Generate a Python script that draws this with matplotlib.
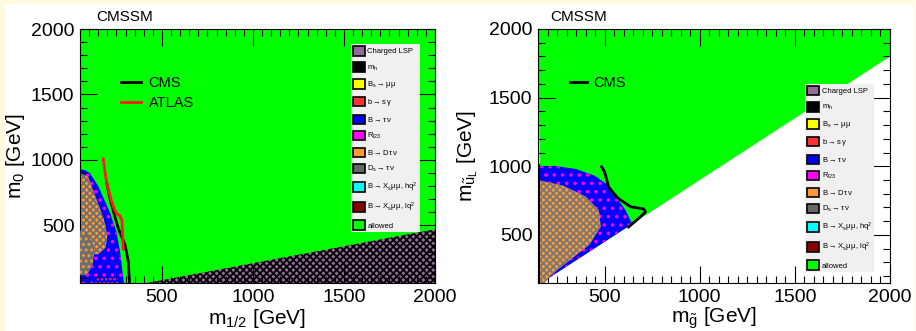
import matplotlib
matplotlib.use("Agg")
import matplotlib.pyplot as plt
from matplotlib.patches import Patch, Polygon, Rectangle
from matplotlib.ticker import MultipleLocator

plt.rcParams["font.family"] = ["Liberation Sans", "DejaVu Sans"]
plt.rcParams["mathtext.fontset"] = "custom"
plt.rcParams["mathtext.rm"] = "Liberation Sans"
plt.rcParams["mathtext.it"] = "Liberation Sans:italic"
plt.rcParams["mathtext.default"] = "regular"

# constraint legend (same for both panels)
constraint_labels = [
    "Charged LSP", r"m$_h$", r"B$_s\rightarrow\mu\,\mu$", r"b$\rightarrow s\,\gamma$",
    r"B$\rightarrow\tau\,\nu$", r"R$_{l23}$", r"B$\rightarrow D\,\tau\,\nu$",
    r"D$_s\rightarrow\tau\,\nu$", r"B$\rightarrow X_s\mu\,\mu$, hq$^2$",
    r"B$\rightarrow X_s\mu\,\mu$, lq$^2$", "allowed",
]
constraint_colors = [
    "#946b9b", "#000000", "#ffff00", "#ff3333", "#0000ff", "#ff00ff",
    "#ff9933", "#666666", "#00ffff", "#8b0000", "#00ff00",
]

# --- (m_1/2, m_0) plane ---
lsp_m12 = [380, 2000, 2000]
lsp_m0 = [50, 470, 50]

excl_m12 = [50, 80, 104, 150, 214, 250, 270, 283, 292, 50]
excl_m0 = [930, 920, 900, 800, 600, 450, 300, 150, 50, 50]

speck_m12 = [50, 95, 140, 180, 200, 190, 150, 50]
speck_m0 = [900, 870, 700, 550, 420, 330, 280, 280]

grey_m12 = [50, 100, 130, 120, 90, 50]
grey_m0 = [460, 430, 330, 200, 120, 120]

bsg_m12 = [130, 250, 260, 140]
bsg_m0 = [50, 50, 100, 95]

cms_m12 = [196, 215, 235, 260, 297, 315, 321, 322]
cms_m0 = [830, 700, 600, 477, 351, 227, 86, 50]

atlas_m12 = [178, 186, 196, 210, 224, 240, 251, 268, 280, 284, 288]
atlas_m0 = [1007, 920, 830, 750, 680, 620, 590, 575, 540, 427, 320]

# --- (m_gluino, m_uL) plane ---
kin_mg = [150, 2000, 2000, 167]
kin_mu = [2000, 2000, 1800, 150]

excl_mg = [150, 250, 350, 450, 520, 570, 610, 645, 167, 150]
excl_mu = [1000, 1000, 980, 930, 860, 760, 680, 580, 150, 150]

speck_mg = [150, 280, 400, 470, 480, 420, 320, 220, 185, 150]
speck_mu = [900, 860, 780, 680, 560, 430, 320, 210, 150, 150]

mh_mg = [150, 150]
mh_mu = [150, 1000]

cms_mg = [484, 500, 521, 568, 636, 704, 715, 688, 626]
cms_mu = [996, 960, 850, 770, 705, 690, 668, 631, 558]

W, H = 916, 331
fig = plt.figure(figsize=(W / 100, H / 100), dpi=100, facecolor="#fffbe3")
fig.add_artist(Rectangle((5 / W, 0), 909 / W, 327 / H, transform=fig.transFigure,
                         facecolor="white", edgecolor="none", zorder=0))

ax1 = fig.add_axes([80 / W, 48 / H, 355 / W, 254 / H])
ax2 = fig.add_axes([538 / W, 48 / H, 352 / W, 254 / H])

plt.rcParams["hatch.linewidth"] = 1.3


def poly(ax, xs, ys, face, hatch=None, hatch_color="none", z=1):
    ax.add_patch(Polygon(list(zip(xs, ys)), closed=True, facecolor=face,
                         edgecolor=hatch_color, hatch=hatch, linewidth=0, zorder=z))


# left panel
ax1.set_facecolor("#00ff00")
poly(ax1, lsp_m12, lsp_m0, "#946b9b", "xxxxx", "black")
poly(ax1, excl_m12, excl_m0, "#0000ff", "..", "#ff00ff")
poly(ax1, speck_m12, speck_m0, "#ff9933", "xxxxx", "#6e6e6e", z=2)
poly(ax1, grey_m12, grey_m0, "#6e6e6e", "...", "#ff9933", z=3)
poly(ax1, bsg_m12, bsg_m0, "#0000ff", "....", "#ff3333", z=3)
ax1.plot(cms_m12, cms_m0, color="black", lw=2, zorder=5, label="CMS")
ax1.plot(atlas_m12, atlas_m0, color="#ff1a1a", lw=2, zorder=6, label="ATLAS")
ax1.set_xlim(50, 2000)
ax1.set_ylim(60, 2000)

# right panel
ax2.set_facecolor("white")
poly(ax2, kin_mg, kin_mu, "#00ff00")
poly(ax2, excl_mg, excl_mu, "#0000ff", "..", "#ff00ff", z=2)
poly(ax2, speck_mg, speck_mu, "#ff9933", "xxxxx", "#777777", z=3)
ax2.plot(mh_mg, mh_mu, color="black", lw=3, zorder=4)
ax2.plot(cms_mg, cms_mu, color="black", lw=2, zorder=5, label="CMS")
ax2.set_xlim(150, 2000)
ax2.set_ylim(150, 2000)

for ax in (ax1, ax2):
    ax.xaxis.set_major_locator(MultipleLocator(500))
    ax.xaxis.set_minor_locator(MultipleLocator(50))
    ax.yaxis.set_major_locator(MultipleLocator(500))
    ax.yaxis.set_minor_locator(MultipleLocator(100))
    ax.tick_params(which="both", direction="in", top=True, right=True, labelsize=14)
    ax.tick_params(which="major", length=12, width=0.8)
    ax.tick_params(which="minor", length=5, width=0.8)
    ax.tick_params(axis="x", pad=4)
    ax.tick_params(axis="y", pad=4)
    for s in ax.spines.values():
        s.set_linewidth(0.8)

    handles = [Patch(facecolor=c, edgecolor="black", linewidth=1.2) for c in constraint_colors]
    ax.add_artist(ax.legend(handles, constraint_labels, fontsize=5.5, frameon=True,
                            facecolor="#f0f0f0", edgecolor="none", framealpha=1,
                            fancybox=False, handlelength=1.55, handleheight=1.55,
                            labelspacing=0.85, handletextpad=0.3, borderpad=0.3,
                            loc="upper left",
                            bbox_to_anchor=(0.752, 0.957) if ax is ax1 else (0.748, 0.8)))

ax1.legend(loc="upper left", bbox_to_anchor=(0.095, 0.845), frameon=False, fontsize=10.5,
           handlelength=1.4, handletextpad=0.5, labelspacing=0.45, borderpad=0)
ax2.legend(loc="upper left", bbox_to_anchor=(0.07, 0.845), frameon=False, fontsize=10.5,
           handlelength=1.2, handletextpad=0.4, borderpad=0)

ax1.set_xlabel(r"m$_{1/2}$ [GeV]", fontsize=15)
ax1.set_ylabel(r"m$_0$ [GeV]", fontsize=15)
ax2.set_xlabel(r"m$_{\tilde{g}}$ [GeV]", fontsize=15)
ax2.set_ylabel(r"m$_{\tilde{u}_L}$ [GeV]", fontsize=15)
ax1.xaxis.set_label_coords(0.5, -0.095)
ax2.xaxis.set_label_coords(0.5, -0.088)
ax1.yaxis.set_label_coords(-0.15, 0.5)
ax2.yaxis.set_label_coords(-0.165, 0.5)

fig.text(96 / W, 1 - 17 / H, "CMSSM", fontsize=11, va="center")
fig.text(550 / W, 1 - 17 / H, "CMSSM", fontsize=11, va="center")

fig.savefig("out.png", dpi=100, facecolor=fig.get_facecolor())
